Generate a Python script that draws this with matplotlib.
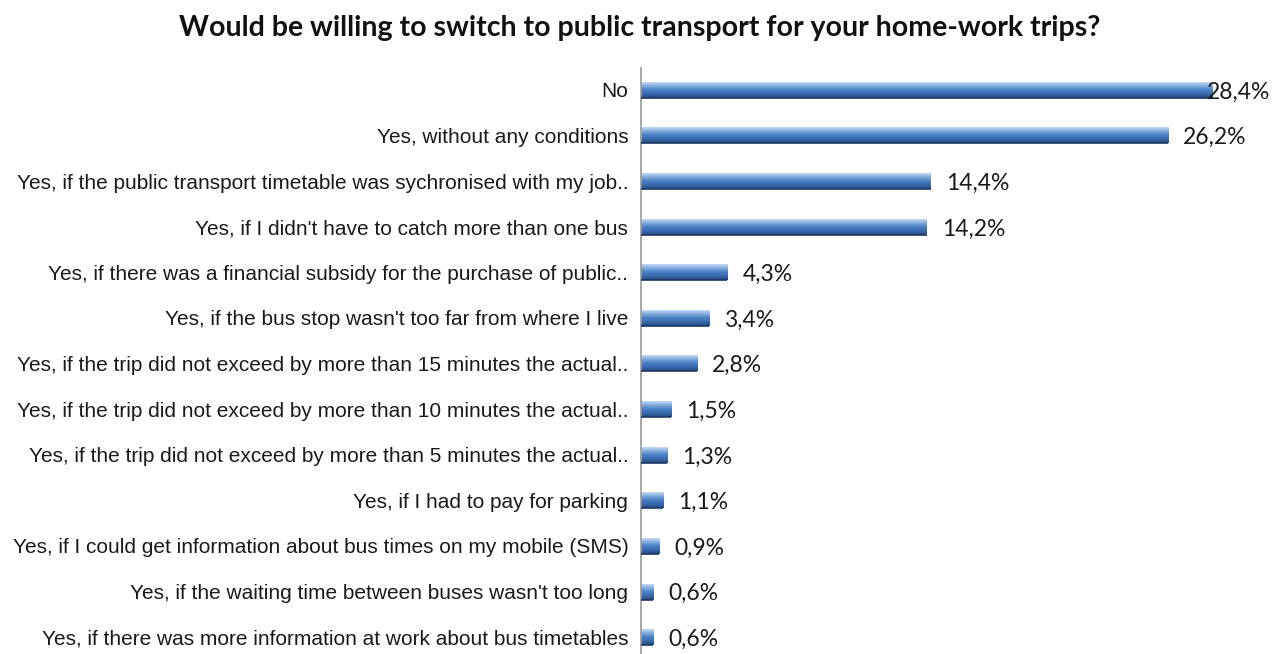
import matplotlib.pyplot as plt
import numpy as np
from matplotlib.colors import LinearSegmentedColormap

categories = [
    "No",
    "Yes, without any conditions",
    "Yes, if the public transport timetable was sychronised with my job..",
    "Yes, if I didn't have to catch more than one bus",
    "Yes, if there was a financial subsidy for the purchase of public..",
    "Yes, if the bus stop wasn't too far from where I live",
    "Yes, if the trip did not exceed by more than 15 minutes the actual..",
    "Yes, if the trip did not exceed by more than 10 minutes the actual..",
    "Yes, if the trip did not exceed by more than 5 minutes the actual..",
    "Yes, if I had to pay for parking",
    "Yes, if I could get information about bus times on my mobile (SMS)",
    "Yes, if the waiting time between buses wasn't too long",
    "Yes, if there was more information at work about bus timetables",
]
values = [28.4, 26.2, 14.4, 14.2, 4.3, 3.4, 2.8, 1.5, 1.3, 1.1, 0.9, 0.6, 0.6]

title = "Would be willing to switch to public transport for your home-work trips?"

# cylinder-like shading across each bar (top -> bottom)
shade = LinearSegmentedColormap.from_list(
    "bar3d", ["#c6dbf3", "#7fa9dc", "#4a7fc4", "#3a6aad", "#23487c"])
grad = np.linspace(0, 1, 64).reshape(-1, 1)

fig = plt.figure(figsize=(12.79, 6.54), dpi=100)
ax = fig.add_axes([0.501, 0.0, 0.472, 0.896])

bar_h = 0.35
y = np.arange(len(values))
for yi, v in zip(y, values):
    ax.imshow(grad, cmap=shade, aspect="auto", interpolation="bilinear",
              extent=[0, v, yi + bar_h / 2, yi - bar_h / 2], zorder=2)
    # darker shadow edge under the bar
    ax.plot([0, v], [yi + bar_h / 2, yi + bar_h / 2], color="#1c3a66",
            lw=1.2, zorder=3, solid_capstyle="butt")

ax.set_xlim(0, 30)
ax.set_ylim(12.37, -0.48)

ax.set_yticks(y)
ax.set_yticklabels(categories, fontsize=15, family="Liberation Sans",
                   color="#1a1a1a")
ax.tick_params(axis="y", length=0, pad=9)
ax.set_xticks([])

for s in ["top", "right", "bottom"]:
    ax.spines[s].set_visible(False)
ax.spines["left"].set_color("#9a9a9a")
ax.spines["left"].set_linewidth(1.2)

# value labels, kept inside the plotting area
label_max = 28.15
for yi, v in zip(y, values):
    txt = f"{v:.1f}%".replace(".", ",")
    ax.text(min(v + 0.75, label_max), yi + 0.05, txt, va="center", ha="left",
            fontsize=16.5, family="Lato", color="#1a1a1a", zorder=4)

fig.text(0.5, 0.957, title, ha="center", va="center", fontsize=20.5,
         family="Lato", weight="bold", color="#111111")

fig.savefig("out.png", dpi=100)
